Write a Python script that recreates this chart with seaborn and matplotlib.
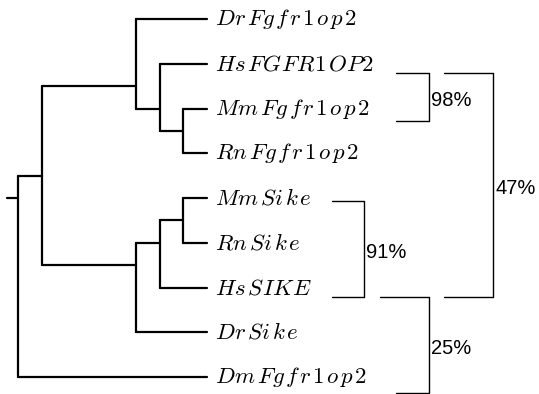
import pandas as pd
import seaborn as sns
import matplotlib.pyplot as plt

# Leaves, top to bottom
leaves = ["DrFgfr1op2", "HsFGFR1OP2", "MmFgfr1op2", "RnFgfr1op2",
          "MmSike", "RnSike", "HsSIKE", "DrSike", "DmFgfr1op2"]

# Topology (nested tuples of leaf names)
tree = ((("DrFgfr1op2", ("HsFGFR1OP2", ("MmFgfr1op2", "RnFgfr1op2"))),
         ((("MmSike", "RnSike"), "HsSIKE"), "DrSike")),
        "DmFgfr1op2")

# Depth of the internal nodes, in pre-order
node_depths = [0, 1, 5, 6, 7, 5, 6, 7]
leaf_depth = 8

# Support brackets: first leaf, last leaf, label
support_top = ["HsFGFR1OP2", "HsFGFR1OP2", "MmSike", "HsSIKE"]
support_bottom = ["MmFgfr1op2", "HsSIKE", "HsSIKE", "DmFgfr1op2"]
support_labels = ["98%", "47%", "91%", "25%"]

# bracket layout: (y offset top, y offset bottom, x left top, x left bottom, x right)
bracket_layout = [
    (0.21, 0.28, 16.02, 16.02, 17.42),
    (0.21, 0.21, 18.05, 18.05, 20.13),
    (0.07, 0.21, 13.31, 13.31, 14.66),
    (0.21, 0.36, 15.34, 16.02, 17.42),
]

leaf_y = {name: i for i, name in enumerate(leaves)}
depth_iter = iter(node_depths)
segments = []


def layout(node):
    """Return (x, y, leaf_ys) of node and add its edges to segments."""
    if isinstance(node, str):
        return leaf_depth, leaf_y[node], [leaf_y[node]]
    x = next(depth_iter)
    kids = [layout(child) for child in node]
    ys = [y for k in kids for y in k[2]]
    y = sum(ys) / len(ys)
    segments.append([(x, min(k[1] for k in kids)), (x, max(k[1] for k in kids))])
    for kx, ky, _ in kids:
        segments.append([(x, ky), (kx, ky)])
    return x, y, ys


def spaced_math(name):
    # letter-spaced math italic, tighter after capitals
    out = ""
    for i, ch in enumerate(name):
        out += ch
        if i < len(name) - 1:
            gap = 0.02 if ch.isupper() else 0.13
            out += r"\hspace{%.2f}" % gap
    return "$" + out + "$"


root_x, root_y, _ = layout(tree)
segments.append([(root_x - 0.47, root_y), (root_x, root_y)])

rows = []
for i, seg in enumerate(segments):
    for x, y in seg:
        rows.append({"x": x, "y": y, "seg": i})
tree_df = pd.DataFrame(rows)

rows = []
for i, (top, bot) in enumerate(zip(support_top, support_bottom)):
    oy_t, oy_b, xl_t, xl_b, xr = bracket_layout[i]
    yt = leaf_y[top] + oy_t
    yb = leaf_y[bot] + oy_b
    for x, y in [(xl_t, yt), (xr, yt), (xr, yb), (xl_b, yb)]:
        rows.append({"x": x, "y": y, "seg": i})
bracket_df = pd.DataFrame(rows)

sns.set_style("white")
plt.rcParams["mathtext.fontset"] = "cm"
plt.rcParams["text.color"] = "black"

fig = plt.figure(figsize=(5.39, 3.94), dpi=100)
ax = fig.add_axes([0, 0, 1, 1])

sns.lineplot(data=tree_df, x="x", y="y", units="seg", estimator=None, sort=False,
             color="black", linewidth=1.6, ax=ax, legend=False)
sns.lineplot(data=bracket_df, x="x", y="y", units="seg", estimator=None, sort=False,
             color="black", linewidth=1.0, ax=ax, legend=False)

for name in leaves:
    ax.text(leaf_depth + 0.36, leaf_y[name], spaced_math(name), fontsize=16.5,
            va="center", ha="left", color="black")

for i, lab in enumerate(support_labels):
    oy_t, oy_b, xl_t, xl_b, xr = bracket_layout[i]
    ym = (leaf_y[support_top[i]] + oy_t + leaf_y[support_bottom[i]] + oy_b) / 2
    ax.text(xr + 0.1, ym + 0.08, lab, fontsize=14.5, family="Liberation Sans",
            va="center", ha="left", color="black")

ax.set_xlim(-0.763, 22.08)
ax.set_ylim(8.38, -0.425)
ax.axis("off")

plt.savefig("out.png", dpi=100)
plt.close()
